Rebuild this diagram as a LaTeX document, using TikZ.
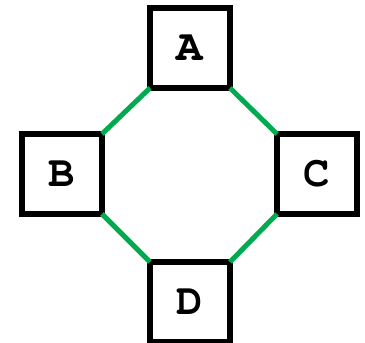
\documentclass[tikz,border=0pt]{standalone}
\usepackage{fontspec}
\setmonofont{texgyrecursor}[Extension=.otf, UprightFont=*-regular, BoldFont=*-bold]
\usepackage{tikz}
\usetikzlibrary{positioning}
\definecolor{edgegreen}{HTML}{00AA4F}

\begin{document}
\begin{tikzpicture}[x=1pt, y=1pt,
    vertex/.style={draw=black, fill=white, line width=6pt, minimum size=80pt, inner sep=0pt, outer sep=0pt, font=\fontsize{44}{44}\selectfont\ttfamily\bfseries},
    link/.style={draw=edgegreen, line width=5pt}]
    \useasboundingbox (0,0) rectangle (365,343);
    % the four squares
    \node[vertex] (A) at (190,295) {A};
    \node[vertex] (B) at (62,169) {B};
    \node[vertex] (C) at (317,169) {C};
    \node[vertex] (D) at (190,41) {D};
    % green connectors between corners
    \draw[link] (A.south west) -- (B.north east);
    \draw[link] (A.south east) -- (C.north west);
    \draw[link] (B.south east) -- (D.north west);
    \draw[link] (C.south west) -- (D.north east);
\end{tikzpicture}
\end{document}
